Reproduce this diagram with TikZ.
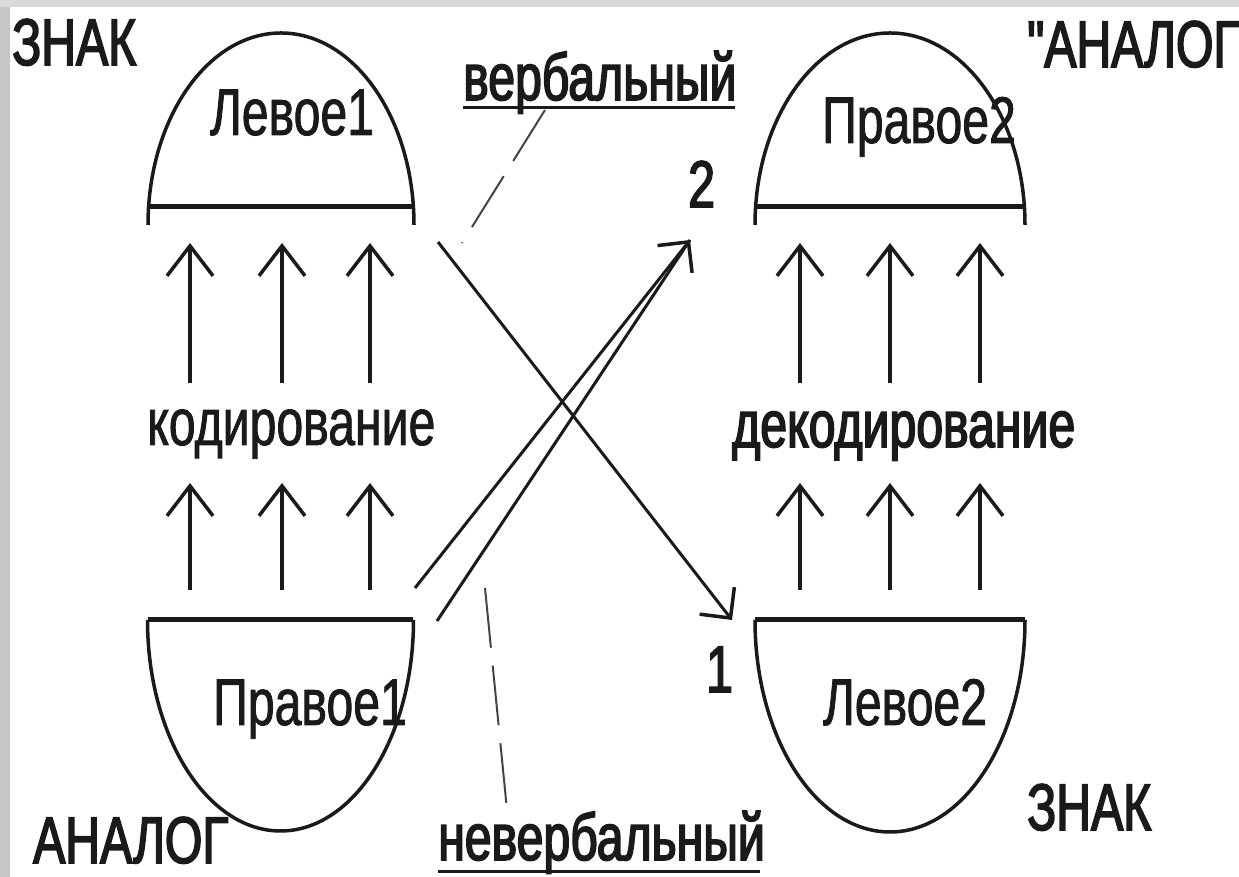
\documentclass[tikz,border=0pt]{standalone}
\usepackage{fontspec}
\setmainfont{Liberation Sans}
\newfontfamily\cond[FakeStretch=0.73,FakeBold=1.2]{Liberation Sans}
\newfontfamily\condb[FakeStretch=0.73,FakeBold=2.4]{Liberation Sans}
\usetikzlibrary{arrows.meta}
\definecolor{ink}{HTML}{1A1A1A}
\definecolor{dashink}{HTML}{444444}
\tikzset{
  lbl/.style={inner sep=0pt, anchor=base west, text=ink, font=\cond\fontsize{66}{70}\selectfont},
  lblb/.style={lbl, font=\condb\fontsize{66}{70}\selectfont},
  bar/.style={draw=ink, line width=5pt},
  shell/.style={draw=ink, line width=3.5pt},
  uparrow/.style={draw=ink, line width=3.5pt, -{Straight Barb[length=30pt, width=46pt, line width=3.5pt]}},
  cross/.style={draw=ink, line width=3pt},
  crossarrow/.style={cross, -{Straight Barb[length=22pt, width=44pt, line width=3.5pt]}},
  leader/.style={draw=dashink, line width=2pt, dash pattern=on 60pt off 18pt},
  uline/.style={draw=ink, line width=3pt}
}
\begin{document}
\begin{tikzpicture}[x=1pt, y=1pt]
  % page and border
  \fill[white] (0,0) rectangle (1239,877);
  \useasboundingbox (0,0) rectangle (1239,877);
  \fill[gray!45] (0,0) rectangle (10,877);
  \fill[gray!30] (0,870) rectangle (1239,877);

  % top-left dome (Левое1)
  \draw[shell] (148,652) arc[start angle=180, end angle=0, x radius=133pt, y radius=192pt];
  \draw[bar] (148,670) -- (415,670);
  % top-right dome (Правое2)
  \draw[shell] (755,652) arc[start angle=180, end angle=0, x radius=135pt, y radius=192pt];
  \draw[bar] (755,670) -- (1025,670);
  % bottom-left bowl (Правое1)
  \draw[shell] (147.5,257) arc[start angle=180, end angle=360, x radius=133pt, y radius=211pt];
  \draw[bar] (148,257) -- (413,257);
  % bottom-right bowl (Левое2)
  \draw[shell] (755,257) arc[start angle=180, end angle=360, x radius=135pt, y radius=212pt];
  \draw[bar] (755,257) -- (1025,257);

  % texts
  \node[lblb] (znak1) at (12,812) {ЗНАК};
  \node[lblb] (analog2) at (1027,810) {"АНАЛОГ};
  \node[lbl] (lev1) at (210,742) {Левое1};
  \node[lbl] (prav2) at (822,734) {Правое2};
  \node[lblb] (verb) at (463,777) {вербальный};
  \node[lbl] (kod) at (147,432) {кодирование};
  \node[lblb] (dekod) at (732,430) {декодирование};
  \node[lbl] (prav1) at (213,152) {Правое1};
  \node[lbl] (lev2) at (823,152) {Левое2};
  \node[lblb] (analog1) at (33,14) {АНАЛОГ};
  \node[lblb] (znak2) at (1027,47) {ЗНАК};
  \node[lblb] (nonverb) at (438,17) {невербальный};
  \node[lblb] (two) at (688,670) {2};
  \node[lblb] (one) at (706,185) {1};

  % underlines
  \coordinate (vu1) at (463,769); \coordinate (vu2) at (735,769);
  \draw[uline] (vu1) -- (vu2);
  \coordinate (nu1) at (438,5); \coordinate (nu2) at (760,5);
  \draw[uline] (nu1) -- (nu2);

  % vertical arrows
  \foreach \x [count=\i] in {190,282,370,800,890,980} {
    \coordinate (ua\i s) at (\x,494); \coordinate (ua\i e) at (\x,634);
    \coordinate (la\i s) at (\x,287); \coordinate (la\i e) at (\x,394);
    \draw[uparrow] (ua\i s) -- (ua\i e);
    \draw[uparrow] (la\i s) -- (la\i e);
  }

  % crossing lines
  \coordinate (aS) at (438,635); \coordinate (aE) at (732,257);
  \coordinate (bS) at (415,289); \coordinate (tip2) at (690,637);
  \coordinate (cS) at (437,256);
  \draw[crossarrow] (aS) -- (aE);
  \draw[crossarrow] (bS) -- (tip2);
  \draw[cross] (cS) -- (tip2);

  % dashed leaders
  \coordinate (vd1) at (545,767); \coordinate (vd2) at (462,634);
  \draw[leader] (vd1) -- (vd2);
  \coordinate (nd1) at (485,289); \coordinate (nd2) at (507,67);
  \draw[leader] (nd1) -- (nd2);
\end{tikzpicture}
\end{document}
